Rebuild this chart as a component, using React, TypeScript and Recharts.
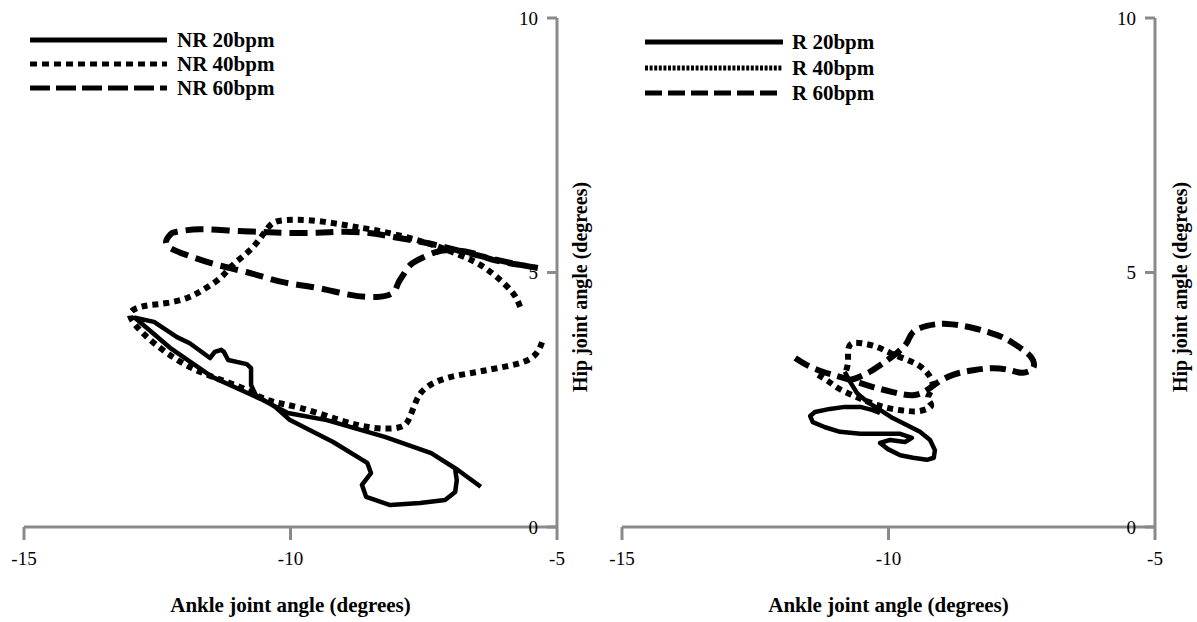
import React from 'react';
import { LineChart, Line, XAxis, YAxis, Legend, Customized } from 'recharts';

type Pt = [number, number];

const xTicks = [-15, -10, -5];
const yTicks = [0, 5, 10];
const xTitle = 'Ankle joint angle (degrees)';
const yTitle = 'Hip joint angle (degrees)';
const nrLabels = ['NR 20bpm', 'NR 40bpm', 'NR 60bpm'];
const rLabels = ['R 20bpm', 'R 40bpm', 'R 60bpm'];

const nr20: Pt[] = [
  [-6.43, 0.79], [-6.86, 1.12], [-7.36, 1.45], [-8.23, 1.77], [-9.32, 2.1], [-10.05, 2.24],
  [-10.53, 2.5], [-11.47, 2.95], [-12.26, 3.52], [-12.92, 4.11], [-12.56, 4.03], [-12.13, 3.73],
  [-11.89, 3.61], [-11.51, 3.32], [-11.42, 3.44], [-11.3, 3.48], [-11.25, 3.44], [-11.17, 3.28],
  [-10.82, 3.2], [-10.74, 3.12], [-10.74, 2.79], [-10.65, 2.59], [-10.29, 2.36], [-10.01, 2.1],
  [-9.2, 1.67], [-8.56, 1.26], [-8.49, 1.06], [-8.66, 0.83], [-8.58, 0.59], [-8.13, 0.43],
  [-7.57, 0.47], [-7.1, 0.53], [-6.91, 0.69], [-6.88, 0.92], [-6.91, 1.12],
];

const nr40: Pt[] = [
  [-5.28, 3.63], [-5.38, 3.42], [-5.64, 3.24], [-6.13, 3.12], [-6.58, 3.03], [-7.06, 2.93],
  [-7.44, 2.75], [-7.63, 2.5], [-7.76, 2.16], [-7.95, 1.96], [-8.45, 1.95], [-9.07, 2.1],
  [-9.82, 2.34], [-10.44, 2.5], [-10.95, 2.75], [-11.7, 3.05], [-12.32, 3.42], [-12.77, 3.81],
  [-13.01, 4.15], [-12.88, 4.3], [-12.64, 4.36], [-12.32, 4.4], [-11.94, 4.5], [-11.64, 4.66],
  [-11.32, 4.89], [-11.08, 5.15], [-10.76, 5.44], [-10.52, 5.74], [-10.33, 5.97], [-10.07, 6.03],
  [-9.69, 6.03], [-9.2, 5.97], [-8.75, 5.89], [-8.26, 5.8], [-7.44, 5.58], [-6.82, 5.34],
  [-6.44, 5.15], [-6.13, 4.91], [-5.83, 4.6], [-5.69, 4.32],
];

const nr60: Pt[] = [
  [-5.36, 5.09], [-5.69, 5.15], [-6.26, 5.28], [-6.88, 5.44], [-7.44, 5.58], [-8.08, 5.7],
  [-8.56, 5.78], [-9.07, 5.8], [-9.5, 5.78], [-10.14, 5.78], [-10.57, 5.8], [-11.08, 5.82],
  [-11.7, 5.85], [-12.13, 5.8], [-12.26, 5.74], [-12.32, 5.54], [-11.94, 5.34], [-11.38, 5.15],
  [-10.76, 4.99], [-10.14, 4.81], [-9.5, 4.7], [-8.88, 4.56], [-8.38, 4.52], [-8.08, 4.6],
  [-7.98, 4.79], [-7.85, 5.01], [-7.7, 5.19], [-7.33, 5.38], [-7.01, 5.44], [-6.58, 5.38],
  [-6.2, 5.25], [-5.69, 5.15], [-5.36, 5.09],
];

const r20: Pt[] = [
  [-10.82, 3.05], [-10.72, 2.85], [-10.59, 2.63], [-10.4, 2.46], [-10.16, 2.3], [-9.92, 2.14],
  [-9.65, 2.0], [-9.41, 1.87], [-9.22, 1.71], [-9.13, 1.51], [-9.15, 1.36], [-9.28, 1.32],
  [-9.54, 1.36], [-9.78, 1.41], [-10.01, 1.53], [-10.16, 1.65], [-9.97, 1.71], [-9.69, 1.67],
  [-9.56, 1.75], [-9.78, 1.83], [-10.16, 1.83], [-10.53, 1.83], [-10.91, 1.87], [-11.19, 1.96],
  [-11.42, 2.06], [-11.47, 2.18], [-11.38, 2.26], [-11.1, 2.32], [-10.82, 2.36], [-10.53, 2.36],
  [-10.31, 2.3], [-10.16, 2.24],
];

const r40: Pt[] = [
  [-11.32, 2.99], [-11.14, 2.87], [-10.95, 2.73], [-10.72, 2.61], [-10.48, 2.5], [-10.22, 2.4],
  [-9.93, 2.32], [-9.65, 2.28], [-9.41, 2.28], [-9.2, 2.38], [-9.26, 2.53], [-9.18, 2.73],
  [-9.22, 2.95], [-9.41, 3.16], [-9.69, 3.3], [-9.97, 3.42], [-10.22, 3.54], [-10.5, 3.61],
  [-10.7, 3.6], [-10.76, 3.44], [-10.76, 3.24], [-10.8, 3.05],
];

const r60: Pt[] = [
  [-11.75, 3.32], [-11.53, 3.18], [-11.23, 3.05], [-10.91, 2.95], [-10.59, 2.85], [-10.29, 2.75],
  [-9.92, 2.65], [-9.54, 2.59], [-9.28, 2.69], [-9.09, 2.83], [-8.79, 2.99], [-8.41, 3.08],
  [-8.04, 3.12], [-7.72, 3.08], [-7.48, 3.03], [-7.29, 3.12], [-7.29, 3.28], [-7.4, 3.42],
  [-7.66, 3.61], [-7.96, 3.77], [-8.41, 3.91], [-8.9, 3.99], [-9.28, 3.95], [-9.54, 3.83],
  [-9.65, 3.63], [-9.84, 3.42], [-10.1, 3.22], [-10.35, 3.05], [-10.59, 2.93], [-10.72, 2.89],
];

const SERIF = 'Liberation Serif, serif';
const AXIS_COLOR = '#8a8a8a';

type SeriesStyle = {
  dash?: string;
  width: number;
  curve: 'linear' | 'natural';
  legendDash?: string;
};

const nrStyles: SeriesStyle[] = [
  { width: 4.5, curve: 'linear' },
  { dash: '6 5', width: 6, curve: 'natural', legendDash: '7 5' },
  { dash: '18 8', width: 6, curve: 'natural', legendDash: '20 6' },
];

const rStyles: SeriesStyle[] = [
  { width: 4.5, curve: 'linear' },
  { dash: '6 5', width: 6, curve: 'natural', legendDash: '3 1.6' },
  { dash: '16 7', width: 6, curve: 'natural', legendDash: '17 6' },
];

type LegendGeom = { x1: number; x2: number; tx: number; ys: number[] };

const toObj = (pts: Pt[]) => pts.map(([x, y]) => ({ x, y }));

type PanelProps = {
  series: Pt[][];
  labels: string[];
  styles: SeriesStyle[];
  legend: LegendGeom;
  titleX: number;
};

const CHART_W = 598;
const CHART_H = 622;

function Panel({ series, labels, styles, legend, titleX }: PanelProps) {
  return (
    <LineChart
      width={CHART_W}
      height={CHART_H}
      margin={{ top: 18, right: 41, left: 24, bottom: 0 }}
    >
      <XAxis
        type="number"
        dataKey="x"
        domain={[-15, -5]}
        ticks={xTicks}
        interval={0}
        height={95}
        tickSize={13}
        tickMargin={12}
        axisLine={{ stroke: AXIS_COLOR, strokeWidth: 3 }}
        tickLine={{ stroke: AXIS_COLOR, strokeWidth: 3 }}
        tick={{ fill: '#000', fontSize: 19, fontFamily: SERIF }}
        label={{
          value: xTitle,
          position: 'insideBottom',
          offset: 10,
          fill: '#000',
          fontSize: 21,
          fontWeight: 'bold',
          fontFamily: SERIF,
        }}
      />
      <YAxis
        type="number"
        dataKey="y"
        orientation="right"
        mirror
        width={40}
        domain={[0, 10]}
        ticks={yTicks}
        interval={0}
        tickSize={10}
        tickMargin={9}
        axisLine={{ stroke: AXIS_COLOR, strokeWidth: 3 }}
        tickLine={{ stroke: AXIS_COLOR, strokeWidth: 3 }}
        tick={{ fill: '#000', fontSize: 19, fontFamily: SERIF }}
      />
      {series.map((s, i) => (
        <Line
          key={labels[i]}
          name={labels[i]}
          data={toObj(s)}
          dataKey="y"
          type={styles[i].curve}
          stroke="#000"
          strokeWidth={styles[i].width}
          strokeDasharray={styles[i].dash}
          strokeLinecap="butt"
          strokeLinejoin="round"
          dot={false}
          activeDot={false}
          isAnimationActive={false}
        />
      ))}
      <Legend
        layout="horizontal"
        verticalAlign="middle"
        align="center"
        wrapperStyle={{ left: 0, top: 0, width: 300, height: 110 }}
        content={() => (
          <svg width={300} height={110} style={{ display: 'block' }}>
            {labels.map((lab, i) => (
              <g key={lab}>
                <line
                  x1={legend.x1}
                  x2={legend.x2}
                  y1={legend.ys[i]}
                  y2={legend.ys[i]}
                  stroke="#000"
                  strokeWidth={5}
                  strokeDasharray={styles[i].legendDash}
                />
                <text
                  x={legend.tx}
                  y={legend.ys[i]}
                  dominantBaseline="central"
                  fontFamily={SERIF}
                  fontWeight="bold"
                  fontSize={21}
                  fill="#000"
                >
                  {lab}
                </text>
              </g>
            ))}
          </svg>
        )}
      />
      <Customized
        component={() => (
          <text
            x={titleX}
            y={287}
            transform={`rotate(-90 ${titleX} 287)`}
            textAnchor="middle"
            dominantBaseline="central"
            fontFamily={SERIF}
            fontWeight="bold"
            fontSize={20}
            fill="#000"
          >
            {yTitle}
          </text>
        )}
      />
    </LineChart>
  );
}

export default function App() {
  return (
    <div
      style={{
        position: 'absolute',
        left: 0,
        top: 0,
        width: 1197,
        height: 622,
        background: '#fff',
        overflow: 'hidden',
      }}
    >
      <div style={{ position: 'absolute', left: 0, top: 0 }}>
        <Panel
          series={[nr20, nr40, nr60]}
          labels={nrLabels}
          styles={nrStyles}
          legend={{ x1: 30, x2: 167, tx: 177, ys: [40, 64, 88] }}
          titleX={580}
        />
      </div>
      <div style={{ position: 'absolute', left: 598, top: 0 }}>
        <Panel
          series={[r20, r40, r60]}
          labels={rLabels}
          styles={rStyles}
          legend={{ x1: 47, x2: 185, tx: 194, ys: [42, 68, 93] }}
          titleX={582}
        />
      </div>
    </div>
  );
}
